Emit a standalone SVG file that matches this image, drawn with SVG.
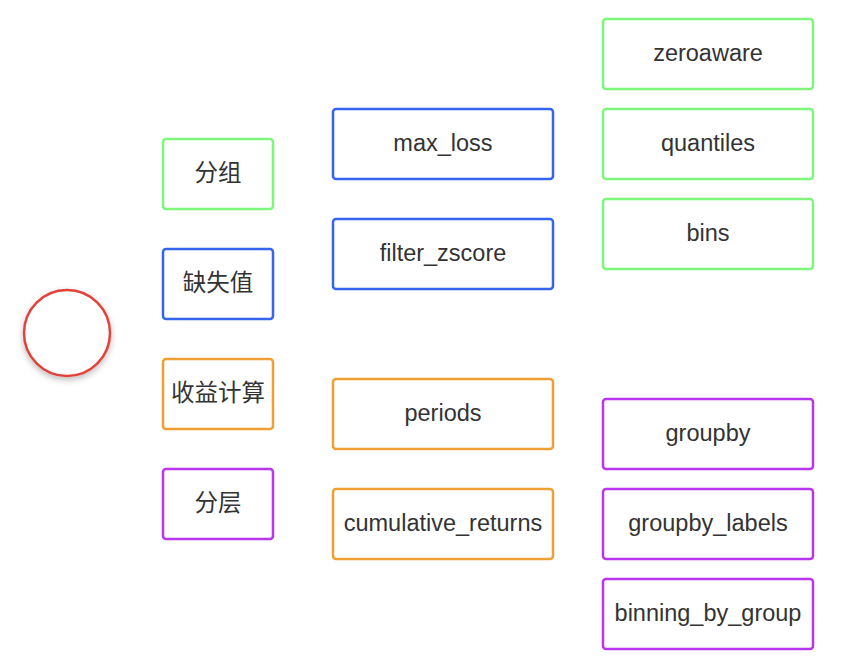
<svg xmlns="http://www.w3.org/2000/svg" width="848" height="664" viewBox="0 0 848 664">
<style>
.n rect{fill:#fff;stroke-width:2.5}
.g rect{stroke:#7ff77b}
.b rect{stroke:#3564ef}
.o rect{stroke:#ef9f33}
.p rect{stroke:#b836ef}
text{font-family:"Liberation Sans","Noto Sans CJK SC",sans-serif;font-size:23.5px;fill:#333;text-anchor:middle;dominant-baseline:central}
</style>
<defs>
<filter id="sh" x="-30%" y="-30%" width="160%" height="170%">
<feDropShadow dx="0" dy="3" stdDeviation="3" flood-color="#000" flood-opacity="0.25"/>
</filter>
</defs>
<g id="connectors"></g>
<g id="root"><circle cx="67" cy="333" r="43" fill="#fff" stroke="#e2433a" stroke-width="2.5" filter="url(#sh)"/></g>
<g id="n1" class="n g"><rect x="163" y="139" width="110" height="70" rx="3"/><text x="218" y="173">分组</text></g>
<g id="n2" class="n b"><rect x="163" y="249" width="110" height="70" rx="3"/><text x="218" y="283">缺失值</text></g>
<g id="n3" class="n o"><rect x="163" y="359" width="110" height="70" rx="3"/><text x="218" y="393">收益计算</text></g>
<g id="n4" class="n p"><rect x="163" y="469" width="110" height="70" rx="3"/><text x="218" y="503">分层</text></g>
<g id="n5" class="n b"><rect x="333" y="109" width="220" height="70" rx="3"/><text x="443" y="143">max_loss</text></g>
<g id="n6" class="n b"><rect x="333" y="219" width="220" height="70" rx="3"/><text x="443" y="253">filter_zscore</text></g>
<g id="n7" class="n o"><rect x="333" y="379" width="220" height="70" rx="3"/><text x="443" y="413">periods</text></g>
<g id="n8" class="n o"><rect x="333" y="489" width="220" height="70" rx="3"/><text x="443" y="523">cumulative_returns</text></g>
<g id="n9" class="n g"><rect x="603" y="19" width="210" height="70" rx="3"/><text x="708" y="53">zeroaware</text></g>
<g id="n10" class="n g"><rect x="603" y="109" width="210" height="70" rx="3"/><text x="708" y="143">quantiles</text></g>
<g id="n11" class="n g"><rect x="603" y="199" width="210" height="70" rx="3"/><text x="708" y="233">bins</text></g>
<g id="n12" class="n p"><rect x="603" y="399" width="210" height="70" rx="3"/><text x="708" y="433">groupby</text></g>
<g id="n13" class="n p"><rect x="603" y="489" width="210" height="70" rx="3"/><text x="708" y="523">groupby_labels</text></g>
<g id="n14" class="n p"><rect x="603" y="579" width="210" height="70" rx="3"/><text x="708" y="613">binning_by_group</text></g>
</svg>
